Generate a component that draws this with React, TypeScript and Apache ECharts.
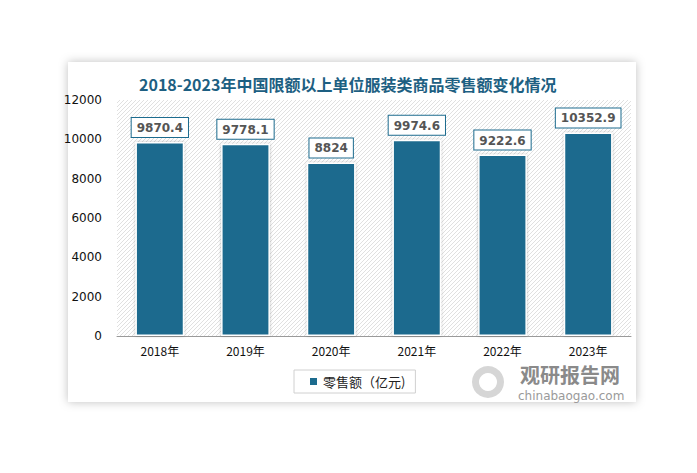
import React, { useEffect, useRef } from "react";
import * as echarts from "echarts";

const categories = ["2018年", "2019年", "2020年", "2021年", "2022年", "2023年"];
const values = [9870.4, 9778.1, 8824, 9974.6, 9222.6, 10352.9];
const seriesName = "零售额（亿元)";
const titleText = "2018-2023年中国限额以上单位服装类商品零售额变化情况";

function hatchPattern(): string {
  const svg =
    "<svg xmlns='http://www.w3.org/2000/svg' width='4' height='4'>" +
    "<rect width='4' height='4' fill='white'/>" +
    "<path d='M-1,1 L1,-1 M0,4 L4,0 M3,5 L5,3' stroke='%23d8d8d8' stroke-width='0.8'/>" +
    "</svg>";
  return "data:image/svg+xml;utf8," + svg;
}

export default function App() {
  const ref = useRef<HTMLDivElement>(null);
  useEffect(() => {
    if (!ref.current) return;
    const chart = echarts.init(ref.current, undefined, { renderer: "svg" });
    const img = new Image();
    img.src = hatchPattern();
    const build = () => {
      chart.setOption({
        animation: false,
        backgroundColor: "#fff",
        title: {
          text: titleText,
          left: 134,
          top: 71,
          textStyle: {
            fontFamily: "Noto Sans CJK SC",
            fontSize: 16,
            fontWeight: "bold",
            color: "#1d5f82",
          },
        },
        graphic: [
          {
            type: "rect",
            z: -10,
            shape: { x: 68, y: 62, width: 568, height: 340 },
            style: {
              fill: "#fff",
              shadowBlur: 10,
              shadowColor: "rgba(0,0,0,0.25)",
              shadowOffsetX: 0,
              shadowOffsetY: 0,
            },
          },
          {
            type: "ring",
            shape: { cx: 488, cy: 382, r: 16, r0: 9 },
            style: { fill: "#d6d6d6" },
            z: 100,
          },
          {
            type: "text",
            x: 520,
            y: 364,
            z: 100,
            style: {
              text: "观研报告网",
              fontSize: 20,
              fontWeight: "bold",
              fontFamily: "Noto Sans CJK SC",
              fill: "#8a8a8a",
            },
          },
          {
            type: "text",
            x: 518,
            y: 390,
            z: 100,
            style: {
              text: "chinabaogao.com",
              fontSize: 12,
              fontFamily: "DejaVu Sans",
              fill: "#9a9a9a",
            },
          },
        ],
        grid: {
          left: 117,
          right: 66,
          top: 100,
          bottom: 137,
          show: true,
          borderWidth: 0,
          backgroundColor: { image: img, repeat: "repeat" },
        },
        legend: {
          data: [seriesName],
          left: 294,
          top: 370,
          itemWidth: 9,
          itemHeight: 9,
          icon: "rect",
          borderColor: "#d0d0d0",
          borderWidth: 1,
          padding: [5, 10, 5, 14],
          textStyle: { fontSize: 13, color: "#222", fontFamily: "Noto Sans CJK SC" },
        },
        xAxis: {
          type: "category",
          data: categories,
          axisLine: { lineStyle: { color: "#999" } },
          axisTick: { show: false },
          axisLabel: { fontSize: 12, color: "#111", margin: 8, fontFamily: "Noto Sans CJK SC" },
        },
        yAxis: {
          type: "value",
          min: 0,
          max: 12000,
          interval: 2000,
          axisLine: { show: false },
          axisTick: { show: false },
          splitLine: { show: false },
          axisLabel: {
            fontSize: 12,
            color: "#111",
            margin: 15,
            fontFamily: "DejaVu Sans",
            formatter: (v: number) => String(v),
          },
        },
        series: [
          {
            name: seriesName,
            type: "bar",
            data: values,
            barWidth: "57%",
            itemStyle: {
              color: "#1c6b8e",
              borderColor: "#fff",
              borderWidth: 1.5,
              shadowBlur: 3,
              shadowColor: "rgba(0,0,0,0.25)",
            },
            label: {
              show: true,
              position: "top",
              distance: 5,
              color: "#555",
              fontWeight: "bold",
              fontSize: 12,
              fontFamily: "DejaVu Sans",
              backgroundColor: "#fff",
              borderColor: "#1c6b8e",
              borderWidth: 1,
              padding: [4, 5, 3, 5],
            },
          },
        ],
      });
    };
    if (img.complete) build();
    else {
      img.onload = build;
      build();
    }
    return () => chart.dispose();
  }, []);
  return (
    <div
      ref={ref}
      style={{ position: "absolute", left: 0, top: 0, width: 697, height: 473 }}
    />
  );
}
